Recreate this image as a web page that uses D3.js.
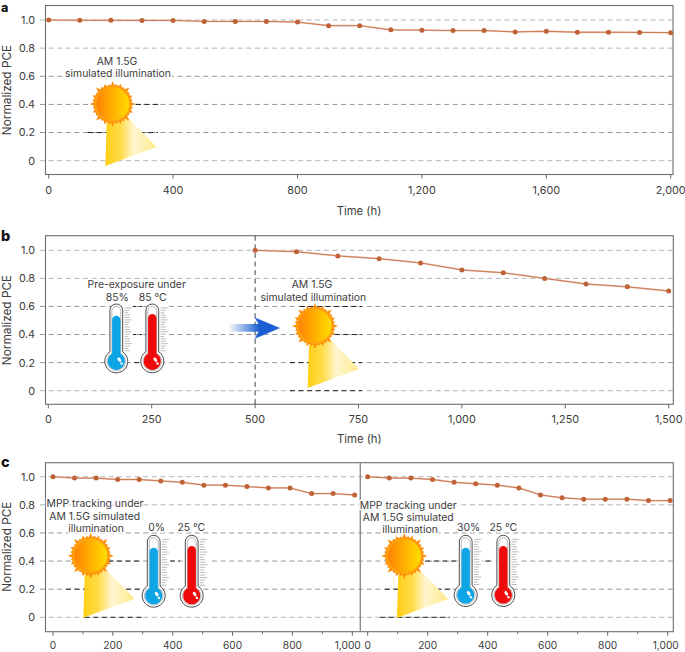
<!DOCTYPE html>
<html><head><meta charset="utf-8">
<script src="https://cdn.jsdelivr.net/npm/d3@7/dist/d3.min.js"></script>
<style>html,body{margin:0;padding:0;background:#fff}svg{display:block}text{font-family:Inter,"Open Sans",sans-serif;fill:#3c3c3c}</style>
</head><body><script>
// Data
const yTicks = [0, 0.2, 0.4, 0.6, 0.8, 1.0];
const timeA = [0,100,200,300,400,500,600,700,800,900,1000,1100,1200,1300,1400,1500,1600,1700,1800,1900,2000];
const pceA = [1,0.998,0.998,0.997,0.997,0.99,0.99,0.99,0.985,0.96,0.96,0.93,0.928,0.925,0.925,0.915,0.92,0.913,0.913,0.912,0.91];
const ticksA = [0,400,800,1200,1600,2000];
const timeB = [500,600,700,800,900,1000,1100,1200,1300,1400,1500];
const pceB = [1,0.99,0.96,0.94,0.91,0.86,0.84,0.80,0.76,0.74,0.71];
const ticksB = [0,250,500,750,1000,1250,1500];
const timeC = [0,72,144,216,288,360,432,504,576,648,720,792,864,936,1008];
const pceC1 = [1,0.99,0.99,0.98,0.98,0.97,0.96,0.94,0.94,0.93,0.92,0.92,0.88,0.88,0.87];
const pceC2 = [1,0.99,0.99,0.98,0.96,0.95,0.94,0.92,0.87,0.85,0.84,0.84,0.84,0.83,0.83];
const ticksC = [0,200,400,600,800,1000];
const minorC = [100,300,500,700,900];

const fmt = d3.format(",");
const svg = d3.select("body").append("svg").attr("width",685).attr("height",652);
const defs = svg.append("defs");
function grad(id, stops, attrs){
  const g = defs.append("linearGradient").attr("id",id);
  Object.entries(attrs||{}).forEach(([k,v])=>g.attr(k,v));
  stops.forEach(s=>g.append("stop").attr("offset",s[0]).attr("stop-color",s[1]).attr("stop-opacity",s[2]===undefined?1:s[2]));
}
grad("disc",[[0,"#ff8205"],[0.5,"#ffb000"],[1,"#ffdc00"]]);
grad("beam",[[0,"#ffcf14"],[0.3,"#ffdc4a"],[0.56,"#fff6d2"],[0.78,"#fff0ac"],[1,"#ffe98a"]]);
grad("arrow",[[0,"#1f62d2",0],[0.45,"#1f62d2",0.75],[0.6,"#1c5fd4"],[1,"#1c5fd4"]]);

function panel(o){
  const g = svg.append("g");
  const y = d3.scaleLinear().domain([0,1]).range(o.yR);
  g.selectAll("line.grid").data(yTicks).join("line")
    .attr("x1",40).attr("x2",o.right).attr("y1",d=>y(d)).attr("y2",d=>y(d))
    .attr("stroke",d=>(d===0||d===1||d===0.8)?"#b4b4b4":"#969696").attr("stroke-width",1).attr("stroke-dasharray","5 3.6");
  g.selectAll("text.yt").data(yTicks).join("text")
    .attr("x",35).attr("y",d=>y(d)).attr("dy","0.36em").attr("text-anchor","end")
    .attr("font-size",10.8).text(d=>d===0?"0":d.toFixed(1));
  g.append("text").attr("transform",`translate(11,${o.yLab}) rotate(-90)`).attr("text-anchor","middle")
    .attr("font-size",11.8).text("Normalized PCE");
  g.append("text").attr("x",1).attr("y",o.letterY).attr("font-size",o.letterSize||14.5).attr("font-weight",800)
    .style("fill","#111").text(o.letter);
  g.append("rect").attr("x",45.5).attr("y",o.top).attr("width",o.right-45.5).attr("height",o.bottom-o.top)
    .attr("fill","none").attr("stroke","#6e6e6e").attr("stroke-width",1.1);
  return {g,y};
}
function xAxis(g,x,ticks,bottom,labY,minor,size,lastShift){
  const t = g.append("g");
  t.selectAll("line.ma").data(ticks).join("line").attr("x1",d=>x(d)).attr("x2",d=>x(d))
    .attr("y1",bottom).attr("y2",bottom+4).attr("stroke","#666");
  if(minor) t.selectAll("line.mi").data(minor).join("line").attr("x1",d=>x(d)).attr("x2",d=>x(d))
    .attr("y1",bottom).attr("y2",bottom+2.5).attr("stroke","#666");
  t.selectAll("text").data(ticks).join("text")
    .attr("x",(d,i)=>x(d)+(i===ticks.length-1?(lastShift||0):0)).attr("y",labY).attr("dy","0.36em")
    .attr("text-anchor","middle").attr("font-size",size||10.8).text(fmt);
}
function series(g,x,y,ts,vs){
  const pts = ts.map((t,i)=>[x(t),y(vs[i])]);
  const l = d3.line();
  g.append("path").attr("d",l(pts)).attr("fill","none").attr("stroke","#eec4ae").attr("stroke-width",1.8);
  g.append("path").attr("d",l(pts)).attr("fill","none").attr("stroke","#c0673f").attr("stroke-width",0.8);
  g.selectAll("circle.p").data(pts).join("circle").attr("cx",d=>d[0]).attr("cy",d=>d[1]).attr("r",2.5).attr("fill","#bf6238");
}
function label(txt,x,yy,size){
  svg.append("text").attr("x",x).attr("y",yy).attr("dy","0.36em").attr("text-anchor","middle")
    .attr("font-size",size||10.4).attr("stroke","#fff").attr("stroke-width",3).attr("paint-order","stroke").attr("stroke-linejoin","round").text(txt);
}
function darkDash(y,v,x1,x2){
  svg.append("line").attr("x1",x1).attr("x2",x2).attr("y1",y(v)).attr("y2",y(v)).attr("stroke","#222").attr("stroke-width",1).attr("stroke-dasharray","5 3.6");
}
function sun(cx,cy){
  const g = svg.append("g").attr("transform",`translate(${cx},${cy})`);
  g.append("path").attr("fill","url(#beam)").attr("d","M-6,19 L-7.4,62 L44,43 L15.6,14 Z");
  const lens = [23,20.5,22,20,23.5,20.5,21.5,20];
  const n = 32, pts = [];
  for(let i=0;i<n;i++){
    const a = i/n*2*Math.PI, a2 = (i+0.5)/n*2*Math.PI;
    pts.push([lens[i%8]*Math.cos(a),lens[i%8]*Math.sin(a)]);
    pts.push([18.6*Math.cos(a2),18.6*Math.sin(a2)]);
  }
  g.append("path").attr("d",d3.line().curve(d3.curveLinearClosed)(pts)).attr("fill","#ff8f0a");
  g.append("circle").attr("r",18).attr("fill","#ffa412");
  g.append("circle").attr("r",16.4).attr("fill","url(#disc)");
}
function thermo(cx,cy,top,fluidTop,color){
  const g = svg.append("g").attr("transform",`translate(${cx},${cy})`);
  const t = top-cy, f = fluidTop-cy;
  g.append("rect").attr("x",6.5).attr("y",t).attr("width",10).attr("height",-t-9).attr("fill","#fff");
  const tg = g.append("g");
  const nT = 18, y0 = t+4, y1 = -10.5;
  for(let i=0;i<=nT;i++){
    const yy = y0+(y1-y0)*i/nT;
    tg.append("line").attr("x1",8.3).attr("x2",i%5===0?15.5:i%5===2?12:13.5).attr("y1",yy).attr("y2",yy).attr("stroke","#bcbcbc").attr("stroke-width",1);
  }
  const shape = (w,r,tt)=>{
    const a = Math.sqrt(Math.max(r*r-w*w,0));
    return `M${-w},${-a} L${-w},${tt+w} A${w},${w} 0 0 1 ${w},${tt+w} L${w},${-a} A${r},${r} 0 1 1 ${-w},${-a} Z`;
  };
  g.append("path").attr("d",shape(6.4,11.5,t)).attr("fill","#fff").attr("stroke","#4a4a4a").attr("stroke-width",1);
  g.append("path").attr("d",shape(4.4,9.3,t+2.4)).attr("fill","#fff").attr("stroke","#8a8a8a").attr("stroke-width",0.6);
  g.append("path").attr("d",shape(4.2,8.6,f)).attr("fill",color);
  g.append("ellipse").attr("cx",3).attr("cy",-1.6).attr("rx",1.5).attr("ry",2.5).attr("transform","rotate(-35 3 -1.6)").attr("fill","#fff");
  g.append("circle").attr("cx",5.2).attr("cy",2.2).attr("r",1.2).attr("fill","#fff");
}

// Panel a
const A = panel({top:5.5,bottom:174.5,right:673,yR:[160.7,20],yLab:90,letter:"a",letterY:12.4,letterSize:12.5});
const xA = d3.scaleLinear().domain([0,2000]).range([48.7,670.7]);
xAxis(A.g,xA,ticksA,174.5,190);
series(A.g,xA,A.y,timeA,pceA);
svg.append("text").attr("x",359).attr("y",211).attr("dy","0.36em").attr("text-anchor","middle").attr("font-size",11.3).text("Time (h)");
darkDash(A.y,0.2,88,158);darkDash(A.y,0.4,136,160);
label("AM 1.5G",117,61);label("simulated illumination",118,73.7);
sun(112.7,104);

// Panel b
const B = panel({top:235.7,bottom:404.3,right:673.3,yR:[390.7,250.3],yLab:320,letter:"b",letterY:241});
const xB = d3.scaleLinear().domain([0,1500]).range([48.3,668.7]);
xAxis(B.g,xB,ticksB,404.3,419.3);
B.g.append("line").attr("x1",xB(500)).attr("x2",xB(500)).attr("y1",235.7).attr("y2",404.3).attr("stroke","#444").attr("stroke-dasharray","5 3.6");
series(B.g,xB,B.y,timeB,pceB);
svg.append("text").attr("x",359.3).attr("y",439).attr("dy","0.36em").attr("text-anchor","middle").attr("font-size",11.3).text("Time (h)");
[[0.6,131,142],[0.4,131,142],[0.2,134,142]].forEach(d=>darkDash(B.y,d[0],d[1],d[2]));
[[0.6,300,362],[0.4,335,362],[0.2,290,362],[0,290,362]].forEach(d=>darkDash(B.y,d[0],d[1],d[2]));
label("Pre-exposure under",136.7,284);label("85%",117.3,297.3);label("85 °C",152.7,297.3);
label("AM 1.5G",312,284.3);label("simulated illumination",313.3,297.3);
thermo(116.3,361.3,304,315.7,"#0ea5e6");thermo(152.3,361.3,304,314,"#ee0a0a");
svg.append("path").attr("fill","url(#arrow)").attr("d","M228,324 L258.5,324 L254.3,317.3 L280,327.9 L254.3,339 L258.5,331.8 L228,331.8 Z");
sun(315,326);

// Panel c
const C = panel({top:462.7,bottom:631.7,right:673.3,yR:[617.3,476.7],yLab:546.7,letter:"c",letterY:467});
const xC1 = d3.scaleLinear().domain([0,1000]).range([53,352.3]);
const xC2 = d3.scaleLinear().domain([0,1000]).range([367.7,667.7]);
xAxis(C.g,xC1,ticksC,631.7,645.5,minorC,10.2,-4.6);
xAxis(C.g,xC2,ticksC,631.7,645.5,minorC,10.2,-2);
C.g.append("line").attr("x1",360.3).attr("x2",360.3).attr("y1",462.7).attr("y2",631.7).attr("stroke","#8c8c8c").attr("stroke-width",1.4);
series(C.g,xC1,C.y,timeC,pceC1);
series(C.g,xC2,C.y,timeC,pceC2);
[[0.4,108,142],[0.4,170,180],[0.2,66,142],[0,85,142],[0.4,425,490],[0.2,385,452],[0,380,450]].forEach(d=>darkDash(C.y,d[0],d[1],d[2]));
label("MPP tracking under",95,503.7);label("AM 1.5G simulated",94.7,516);label("illumination",96,528.3);
label("0%",156.7,527.3);label("25 °C",191.3,527.3);
label("MPP tracking under",408.3,505);label("AM 1.5G simulated",408.3,517);label("illumination",410,529.3);
label("30%",468.7,527.3);label("25 °C",503.3,527.3);
thermo(153.7,595.7,535.3,547.7,"#0ea5e6");thermo(191.7,595.7,535.3,546,"#ee0a0a");
thermo(465.7,595,535.3,547.7,"#0ea5e6");thermo(503.3,595,535.3,546,"#ee0a0a");
sun(90.7,555.7);sun(404.3,556);
</script></body></html>
